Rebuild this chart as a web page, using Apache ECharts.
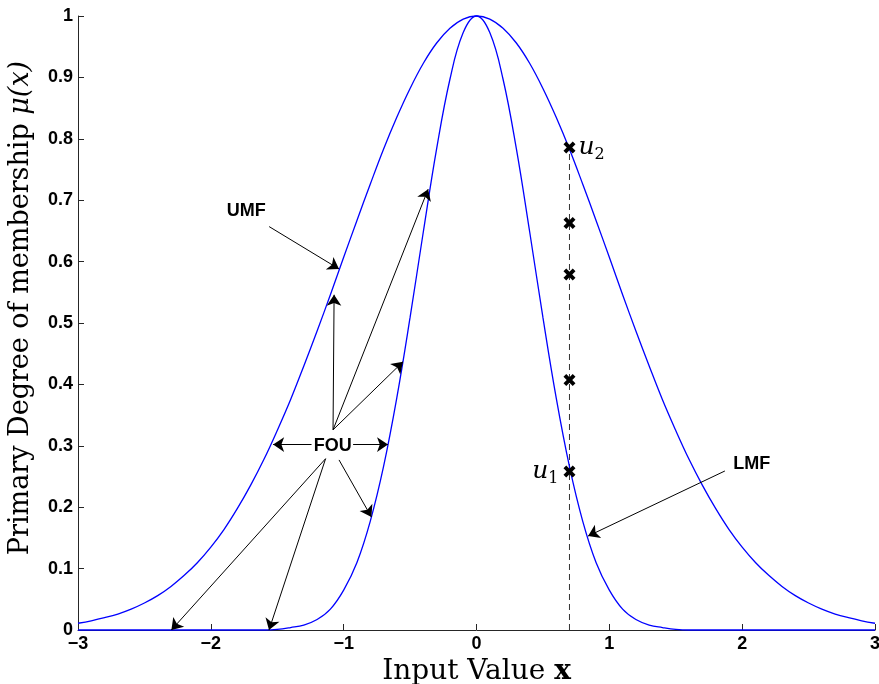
<!DOCTYPE html>
<html>
<head>
<meta charset="utf-8">
<script src="https://cdn.jsdelivr.net/npm/echarts@6/dist/echarts.min.js"></script>
<style>
html, body { margin: 0; padding: 0; background: #fff; }
#chart { width: 879px; height: 684px; }
</style>
</head>
<body>
<div id="chart"></div>
<script>
// Sample points along the input axis
const xValues = [
    -3.0, -2.9, -2.8, -2.7, -2.6, -2.5, -2.4, -2.3, -2.2, -2.1,
    -2.0, -1.9, -1.8, -1.7, -1.6, -1.5, -1.4, -1.3, -1.2, -1.1,
    -1.0, -0.9, -0.8, -0.7, -0.6, -0.5, -0.4, -0.3, -0.2, -0.1,
    0.0,
    0.1, 0.2, 0.3, 0.4, 0.5, 0.6, 0.7, 0.8, 0.9, 1.0,
    1.1, 1.2, 1.3, 1.4, 1.5, 1.6, 1.7, 1.8, 1.9, 2.0,
    2.1, 2.2, 2.3, 2.4, 2.5, 2.6, 2.7, 2.8, 2.9, 3.0
];

// Upper membership function (wide curve)
const umfValues = [
    0.011, 0.015, 0.020, 0.026, 0.034, 0.044, 0.056, 0.071, 0.089, 0.110,
    0.135, 0.164, 0.198, 0.236, 0.278, 0.325, 0.375, 0.430, 0.487, 0.546,
    0.607, 0.667, 0.726, 0.783, 0.835, 0.882, 0.923, 0.956, 0.980, 0.995,
    1.000,
    0.995, 0.980, 0.956, 0.923, 0.882, 0.835, 0.783, 0.726, 0.667, 0.607,
    0.546, 0.487, 0.430, 0.375, 0.325, 0.278, 0.236, 0.198, 0.164, 0.135,
    0.110, 0.089, 0.071, 0.056, 0.044, 0.034, 0.026, 0.020, 0.015, 0.011
];

// Lower membership function (narrow curve)
const lmfValues = [
    0, 0, 0, 0, 0, 0, 0, 0, 0, 0,
    0, 0, 0, 0, 0, 0.001, 0.004, 0.008, 0.017, 0.034,
    0.065, 0.110, 0.177, 0.266, 0.378, 0.509, 0.649, 0.784, 0.897, 0.973,
    1.000,
    0.973, 0.897, 0.784, 0.649, 0.509, 0.378, 0.266, 0.177, 0.110, 0.065,
    0.034, 0.017, 0.008, 0.004, 0.001, 0, 0, 0, 0, 0,
    0, 0, 0, 0, 0, 0, 0, 0, 0, 0
];

// Secondary grades sampled at x = 0.7 (top is u2, bottom is u1)
const sampleX = 0.7;
const sampleGrades = [0.786, 0.663, 0.579, 0.407, 0.258];

// Text notes and arrows [fromX, fromY, toX, toY]
const noteNames = ['UMF', 'FOU', 'LMF'];
const notePos = [[-1.734, 0.683], [-1.082, 0.300], [2.073, 0.270]];
const arrows = [
    [-1.561, 0.657, -1.035, 0.588],
    [-1.242, 0.302, -1.531, 0.302],
    [-0.929, 0.302, -0.666, 0.302],
    [-1.080, 0.326, -1.072, 0.546],
    [-1.080, 0.326, -0.364, 0.718],
    [-1.080, 0.326, -0.553, 0.437],
    [-1.136, 0.279, -2.297, 0.0],
    [-1.136, 0.279, -1.562, 0.0],
    [-1.035, 0.277, -0.791, 0.184],
    [1.870, 0.259, 0.840, 0.153]
];

// bold "x" marker outline
const crossPath = 'path://M2.3,0L5,2.7L7.7,0L10,2.3L7.3,5L10,7.7L7.7,10L5,7.3L2.3,10L0,7.7L2.7,5L0,2.3Z';
const serif = 'DejaVu Serif';
const sans = 'Liberation Sans';

const chart = echarts.init(document.getElementById('chart'));

const mathRich = {
    u: { fontFamily: serif, fontStyle: 'italic', fontSize: 25, color: '#000' },
    s: { fontFamily: serif, fontSize: 16, color: '#000', padding: [14, 0, 0, 0] }
};

const crossData = sampleGrades.map((y, i) => {
    const item = { value: [sampleX, y] };
    if (i === 0) {
        item.label = { show: true, position: 'right', distance: 3, formatter: '{u|u}{s|2}', rich: mathRich };
    } else if (i === sampleGrades.length - 1) {
        item.label = { show: true, position: 'left', distance: 5, formatter: '{u|u}{s|1}', rich: mathRich };
    }
    return item;
});

const option = {
    animation: false,
    backgroundColor: '#fff',
    grid: { left: 78, right: 4, top: 16, bottom: 54, outerBoundsMode: 'none' },
    xAxis: {
        type: 'value',
        min: -3,
        max: 3,
        interval: 1,
        name: 'Input Value {b|x}',
        nameLocation: 'middle',
        nameGap: 18,
        nameTextStyle: {
            fontFamily: serif, fontSize: 28, color: '#000',
            rich: { b: { fontFamily: serif, fontWeight: 'bold', fontSize: 28, color: '#000' } }
        },
        axisLine: { show: true, onZero: false, lineStyle: { color: '#262626', width: 1 } },
        axisTick: { show: true, inside: true, length: 6, lineStyle: { color: '#262626' } },
        axisLabel: {
            margin: 5,
            fontFamily: sans, fontWeight: 'bold', fontSize: 18, color: '#000',
            formatter: v => String(v).replace('-', '\u2212')
        },
        splitLine: { show: false }
    },
    yAxis: {
        type: 'value',
        min: 0,
        max: 1,
        interval: 0.1,
        name: 'Primary Degree of membership {i|\u03bc(x)}',
        nameLocation: 'middle',
        nameGap: 44,
        nameTextStyle: {
            fontFamily: serif, fontSize: 27, color: '#000',
            padding: [0, 0, 0, 30],
            rich: { i: { fontFamily: serif, fontStyle: 'italic', fontSize: 27, color: '#000' } }
        },
        axisLine: { show: true, onZero: false, lineStyle: { color: '#262626', width: 1 } },
        axisTick: { show: true, inside: true, length: 6, lineStyle: { color: '#262626' } },
        axisLabel: {
            margin: 5,
            fontFamily: sans, fontWeight: 'bold', fontSize: 18, color: '#000',
            formatter: v => (v === 0 || v === 1) ? String(v) : v.toFixed(1)
        },
        splitLine: { show: false }
    },
    series: [
        {
            name: 'UMF',
            type: 'line',
            data: xValues.map((x, i) => [x, umfValues[i]]),
            smooth: 0.4,
            showSymbol: false,
            clip: false,
            lineStyle: { color: '#0000ff', width: 1.3 },
            z: 3
        },
        {
            name: 'LMF',
            type: 'line',
            data: xValues.map((x, i) => [x, lmfValues[i]]),
            smooth: 0.4,
            showSymbol: false,
            clip: false,
            lineStyle: { color: '#0000ff', width: 1.3 },
            z: 3
        },
        {
            name: 'Sample line',
            type: 'line',
            data: [[sampleX, 0], [sampleX, sampleGrades[0]]],
            showSymbol: false,
            clip: false,
            lineStyle: { color: '#333', width: 1, type: [6, 4] },
            z: 2,
            markLine: {
                silent: true,
                animation: false,
                symbol: ['none', 'arrow'],
                symbolSize: 11,
                label: { show: false },
                lineStyle: { color: '#000', width: 1, type: 'solid' },
                emphasis: { disabled: true },
                data: arrows.map(a => [{ coord: [a[0], a[1]] }, { coord: [a[2], a[3]] }])
            }
        },
        {
            name: 'Grades',
            type: 'scatter',
            symbol: crossPath,
            symbolSize: 12,
            itemStyle: { color: '#000', opacity: 1 },
            data: crossData,
            z: 5
        },
        {
            name: 'Notes',
            type: 'scatter',
            symbolSize: 0,
            silent: true,
            itemStyle: { color: '#000', opacity: 1 },
            data: notePos.map((p, i) => ({ value: p, name: noteNames[i] })),
            label: {
                show: true,
                position: [0, 0],
                align: 'center',
                verticalAlign: 'middle',
                formatter: p => p.name,
                fontFamily: sans, fontWeight: 'bold', fontSize: 18, color: '#000'
            },
            z: 6
        }
    ]
};

chart.setOption(option);
</script>
</body>
</html>
